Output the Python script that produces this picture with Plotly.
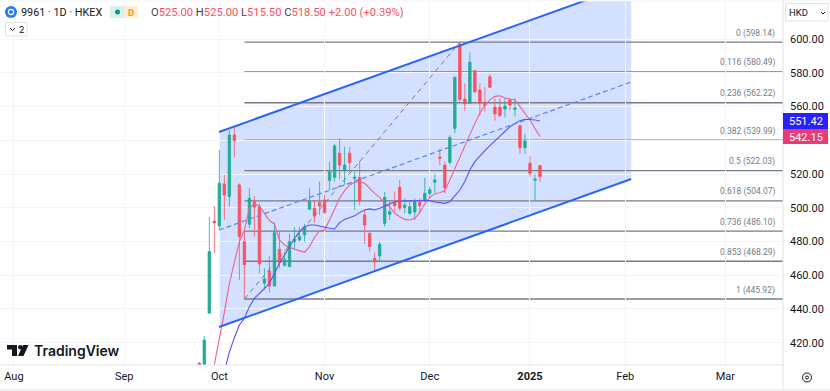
import plotly.graph_objects as go

bar_index = list(range(69))
opens = [408,395,437.6,492.2,489.2,514.1,506.6,543.1,513.5,479.9,490.2,503.6,500.6,455.2,462.5,453.6,475.4,465.9,465.1,479.9,480.9,483.9,499.1,499.7,503,504.6,516.1,518,532.3,522.4,532.3,517.4,517.8,495.7,484.9,470,471.4,490.8,496.1,503.2,512.1,500,496.7,497.5,503.2,504,508.5,515.1,530.1,525.3,526.9,547,597,564.4,561.9,581.2,569.8,562.1,577.7,559.7,559.7,558.5,563.9,558.3,548.6,535.6,526.3,516.3,525]
highs = [408.5,424,494.7,501,534.2,519.4,545.7,547.7,514.5,485.8,511.5,507,502.6,464.1,471.4,491.2,485.8,474,484.5,488.4,488.4,490.4,511.5,504.6,515.5,507.6,527.3,537.8,541.1,536.2,535.8,521.4,527.9,498.7,485.2,473.6,479.9,509.5,504,509.5,516.5,505.6,504.6,505.6,505.6,517.8,512.5,520,534.8,527.3,543.1,577.7,598.14,573.7,592.1,582,573.7,571.4,579,564.8,564.8,564.8,564.8,564.8,549,543.7,530.9,520,525]
lows = [400,393,437,473,486.8,492.8,500.7,529.9,457.2,445.92,487.8,482.9,461.2,451.3,449.9,453.4,464.1,465.1,464.7,475,479.9,479.9,498.7,491.2,495.7,496.3,510.5,515.5,516.8,513.5,521.4,498.7,501.6,478.5,474,462.1,468,488.8,492.7,497.7,498.3,496.7,495.7,492.7,496.7,503.6,505.6,508.5,525.3,508.5,525.7,544.1,562.9,557.5,561.5,567.8,554.6,556.9,571.2,551.6,553.6,553.6,557.9,554,531.9,531.9,518.4,504.6,515.5]
closes = [404,421.6,474,491,514.5,507.6,543.1,539.8,482.9,466.1,505.6,500.3,466.7,457.8,453.6,485.2,467.5,469.4,479.9,481.3,482.9,488.8,503.6,495.1,501,497.3,521.4,536.6,525.3,525.3,526.7,518,504,489.8,477,467.9,478.3,506.2,497.7,501.2,499.7,501.6,500.6,503.4,501.2,508.5,510.7,516.5,529.3,511.9,541.7,577.3,564.2,561.5,586.2,568.8,561.9,560.7,571.4,555.6,554.6,560.3,560.9,559.1,535.6,539.6,520.4,517,518.5]

ma_fast_index = list(range(3, 69))
ma_fast = [407,421.6,438,455.2,468.1,479.9,486.8,499.7,502.2,501,496.7,492.4,490.4,480.9,477.9,476.4,475.4,474.6,473.6,477,482.5,486.2,486.8,492.8,499.7,505.6,510.1,513.5,515.1,515.5,514.5,511.5,508.5,506.2,502.6,500.6,496.7,494.7,493.1,492.7,493.7,497.1,502.2,506.2,508.2,508.9,510.1,516.5,523.4,529.3,536.2,543.1,550,556,560.9,563.9,566,566.4,565,564.4,563.9,559.9,556,552,547,542.15]
ma_slow_index = list(range(5, 69))
ma_slow = [403,414.5,423,430.5,434.5,441.4,446.3,449.3,451.7,455.2,461.2,467.1,472,477,481.9,485.8,488.8,489.8,489.8,489.2,488.4,487.8,487.4,491.2,493.1,494.1,495.3,497.1,498.7,499.3,498.7,499.7,501,502.6,503.6,504,504,503.8,504,504.2,504.4,504.2,503.4,503,502.6,503.6,507.2,510.5,515.5,522.4,527.3,530.7,533.8,536.8,539.6,542.1,545.5,548,550,551.6,552.4,552.4,552,551.42]

channel_x = [3.93, 86.2]
channel_upper = [544.9, 632.6]
channel_mid = [486.8, 574.5]
channel_lower = [429.3, 517.0]

fib_ratios = ["0","0.116","0.236","0.382","0.5","0.618","0.736","0.853","1"]
fib_prices = [598.14,580.49,562.22,539.99,522.03,504.07,486.10,468.29,445.92]
fib_x = [9, 116.5]
fib_label_x = 115.25
trend_x = [9, 52]
trend_y = [445.92, 598.14]

x_tick_vals = [-37,-15,4,25,46,66,85,105]
x_tick_text = ["Aug","Sep","Oct","Nov","Dec","<b>2025</b>","Feb","Mar"]
y_tick_vals = [420,440,460,480,500,520,540,560,580,600]
y_tick_text = ["420.00","440.00","460.00","480.00","500.00","520.00","","560.00","580.00","600.00"]
x_range = [-39.78, 116.5]
y_range = [406.81, 622.52]

UP = "#22ab94"
DOWN = "#f7525f"
BLUE = "#2962ff"
GREY = "#787b86"
INK = "#131722"
BORDER = "#e0e3eb"
GRID = "#f3f5f9"
FONT = "Roboto"

L, R, T, B = 0, 783, 1, 365
def px(v): return (v - L) / (R - L)
def py(v): return (B - v) / (B - T)

fig = go.Figure()
fig.add_trace(go.Candlestick(x=bar_index, open=opens, high=highs, low=lows, close=closes,
    increasing=dict(line=dict(color=UP, width=0.8), fillcolor=UP),
    decreasing=dict(line=dict(color=DOWN, width=0.8), fillcolor=DOWN),
    whiskerwidth=0, showlegend=False))
fig.add_trace(go.Scatter(x=ma_fast_index, y=ma_fast, mode="lines", line=dict(color="#f0608f", width=1.1), showlegend=False))
fig.add_trace(go.Scatter(x=ma_slow_index, y=ma_slow, mode="lines", line=dict(color="#5a50f5", width=1.1), showlegend=False))
fig.add_trace(go.Scatter(x=channel_x, y=channel_upper, mode="lines", line=dict(color=BLUE, width=2), showlegend=False))
fig.add_trace(go.Scatter(x=channel_x, y=channel_lower, mode="lines", line=dict(color=BLUE, width=2), showlegend=False))
fig.add_trace(go.Scatter(x=channel_x, y=channel_mid, mode="lines", line=dict(color="#5b84f5", width=1.2, dash="5px,3px"), showlegend=False))
fig.add_trace(go.Scatter(x=trend_x, y=trend_y, mode="lines", line=dict(color=GREY, width=1, dash="5px,4px"), showlegend=False))

shapes = []
shapes.append(dict(type="path", xref="x", yref="y", layer="below", line=dict(width=0),
    fillcolor="rgba(41,98,255,0.2)",
    path=f"M{channel_x[0]},{channel_upper[0]} L{channel_x[1]},{channel_upper[1]} L{channel_x[1]},{channel_lower[1]} L{channel_x[0]},{channel_lower[0]} Z"))
for p in fib_prices:
    shapes.append(dict(type="line", xref="x", yref="y", layer="below", x0=fib_x[0], x1=fib_x[1], y0=p, y1=p,
                       line=dict(color=GREY, width=1.3)))

def rect(x0, y0, x1, y1, fill=None, line=None, lw=1):
    shapes.append(dict(type="rect", xref="paper", yref="paper", x0=px(x0), x1=px(x1), y0=py(y0), y1=py(y1),
                       fillcolor=fill or "rgba(0,0,0,0)", line=dict(color=line or "rgba(0,0,0,0)", width=lw if line else 0)))
def circle(cx, cy, r, fill=None, line=None, lw=1):
    shapes.append(dict(type="circle", xref="paper", yref="paper", x0=px(cx-r), x1=px(cx+r), y0=py(cy-r), y1=py(cy+r),
                       fillcolor=fill or "rgba(0,0,0,0)", line=dict(color=line or "rgba(0,0,0,0)", width=lw if line else 0)))
def poly(points, fill=None, line=None, lw=1, close=True):
    d = "M" + " L".join(f"{px(a):.5f},{py(b):.5f}" for a, b in points) + (" Z" if close else "")
    shapes.append(dict(type="path", xref="paper", yref="paper", path=d,
                       fillcolor=fill or "rgba(0,0,0,0)", line=dict(color=line or "rgba(0,0,0,0)", width=lw if line else 0)))

# frame
poly([(0,365),(783,365)], line=BORDER, close=False)
poly([(0,390),(830,390)], line=BORDER, close=False)
poly([(0,1),(830,1)], line=GRID, close=False)
poly([(783,0),(783,390)], line=BORDER, close=False)
# header logo
circle(11, 12, 6, fill="#2979f2")
circle(11, 12, 2.6, line="#ffffff", lw=1.2)
# status pill
rect(110, 6, 124, 18, fill="#d6f0ea")
rect(124, 6, 138, 18, fill="#fdecd6")
circle(117.5, 12, 2.5, fill="#089981")
# legend collapse
rect(5.5, 22.5, 27, 36, line=BORDER)
poly([(10,28),(12.5,30.5),(15,28)], line=INK, close=False)
# currency box
rect(785.5, 3.5, 828, 21, line=BORDER)
poly([(821,12),(823,14),(825,12)], line=INK, close=False)
# last-value tags
rect(783, 113, 828, 129, fill="#2a1fff")
rect(783, 129, 828, 144, fill="#ec3a76")
# settings icon
circle(807, 377.5, 4.5, line=INK, lw=1)
circle(807, 377.5, 1.5, line=INK, lw=1)
# TradingView glyph
poly([(7,345),(17,345),(17,356),(12,356),(12,349.5),(7,349.5)], fill=INK)
circle(20.3, 347.3, 2.3, fill=INK)
poly([(23,345),(28.5,345),(23.5,356),(18,356)], fill=INK)

annotations = []
def text(x, y, s, size=12, color=INK, anchor="left", weight=None, font=FONT):
    f = dict(family=font, size=size, color=color)
    if weight: f["weight"] = weight
    annotations.append(dict(xref="paper", yref="paper", x=px(x), y=py(y), text=s, showarrow=False,
                            xanchor=anchor, yanchor="middle", font=f, borderpad=0, bgcolor="rgba(0,0,0,0)"))

for r, p in zip(fib_ratios, fib_prices):
    annotations.append(dict(xref="x", yref="y", x=fib_label_x, y=p, text=f"{r} ({p:.2f})", showarrow=False,
                            xanchor="right", yanchor="middle", yshift=9,
                            font=dict(family=FONT, size=8.5, color=GREY)))

red = DOWN
def v(s): return f'<span style="color:{red}">{s}</span>'
text(20, 12, "9961 · 1D · HKEX", size=10.8, color=INK)
text(130.5, 12, "D", size=9.5, color="#ff9800", anchor="center", weight=700)
text(149.5, 12, "O"+v("525.00")+" H"+v("525.00")+" L"+v("515.50")+" C"+v("518.50")+" "+v("+2.00 (+0.39%)"), size=11.2, color="#42454f")
text(21, 29.5, "2", size=9.5, anchor="center")
text(788, 12, "HKD", size=9.5)
text(805.5, 121, f"{ma_slow[-1]:.2f}", size=11, color="#ffffff", anchor="center")
text(805.5, 137, f"{ma_fast[-1]:.2f}", size=11, color="#ffffff", anchor="center")
text(33, 350.5, "TradingView", size=14, color=INK, weight=600, font="Inter")

fig.update_layout(
    width=830, height=391, autosize=False,
    margin=dict(l=L, r=830-R, t=T, b=391-B, pad=0),
    paper_bgcolor="#ffffff", plot_bgcolor="#ffffff",
    showlegend=False, hovermode=False,
    xaxis=dict(range=x_range, rangeslider=dict(visible=False), tickmode="array", tickvals=x_tick_vals, ticktext=x_tick_text,
               showgrid=True, gridcolor=GRID, gridwidth=1, zeroline=False, showline=False, ticks="",
               tickfont=dict(family=FONT, size=11, color=INK), ticklabelstandoff=3),
    yaxis=dict(range=y_range, side="right", tickmode="array", tickvals=y_tick_vals, ticktext=y_tick_text,
               showgrid=True, gridcolor=GRID, gridwidth=1, zeroline=False, showline=False, ticks="",
               tickfont=dict(family=FONT, size=11, color=INK), ticklabelstandoff=6),
    shapes=shapes, annotations=annotations,
)
fig.write_html("out.html", config=dict(displayModeBar=False),
               post_script="document.body.style.margin='0';document.body.style.overflow='hidden';")
